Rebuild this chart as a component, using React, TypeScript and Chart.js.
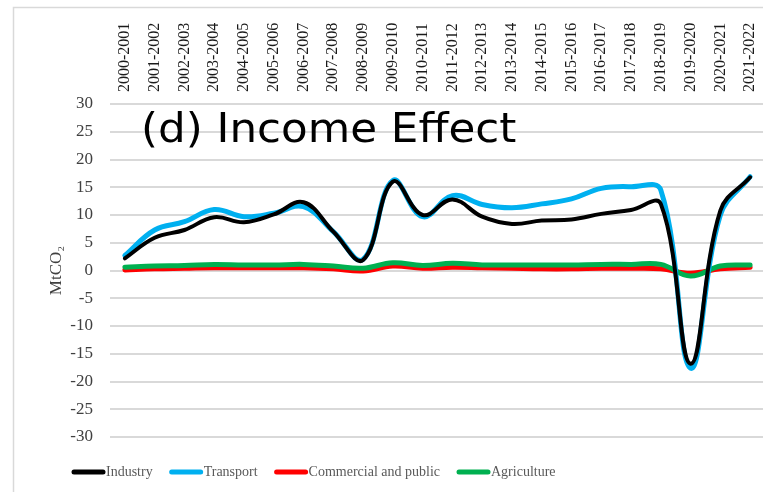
import React, { useEffect, useRef } from "react";
import { Chart, registerables } from "chart.js";

Chart.register(...registerables);

const categories = [
  "2000-2001", "2001-2002", "2002-2003", "2003-2004", "2004-2005", "2005-2006",
  "2006-2007", "2007-2008", "2008-2009", "2009-2010", "2010-2011", "2011-2012",
  "2012-2013", "2013-2014", "2014-2015", "2015-2016", "2016-2017", "2017-2018",
  "2018-2019", "2019-2020", "2020-2021", "2021-2022",
];

const industry = [2.2, 5.9, 7.3, 9.6, 8.7, 10.1, 12.3, 7.0, 1.9, 16.0, 10.0, 12.8, 9.7, 8.4, 9.0, 9.2, 10.2, 10.9, 12.0, -16.8, 10.8, 16.8];
const transport = [2.7, 7.3, 8.8, 11.0, 9.7, 10.3, 11.5, 7.0, 2.0, 16.2, 9.7, 13.5, 11.9, 11.3, 12.0, 12.9, 14.8, 15.1, 14.5, -17.6, 10.0, 16.9];
const commercial = [0.1, 0.3, 0.4, 0.5, 0.5, 0.5, 0.5, 0.3, -0.1, 0.8, 0.4, 0.6, 0.5, 0.4, 0.3, 0.3, 0.4, 0.4, 0.3, -0.5, 0.3, 0.6];
const agriculture = [0.6, 0.8, 0.9, 1.1, 1.0, 1.0, 1.1, 0.8, 0.4, 1.4, 0.9, 1.3, 1.0, 1.0, 1.0, 1.0, 1.1, 1.1, 1.1, -1.0, 0.8, 1.0];

const seriesNames = ["Industry", "Transport", "Commercial and public", "Agriculture"];
const seriesColors = ["#000000", "#00b0f0", "#ff0000", "#00b050"];

const yMin = -30;
const yMax = 30;
const yStep = 5;
const yTitle = "MtCO\u2082";
const panelTitle = "(d) Income Effect";

const SERIF = "'Liberation Serif', 'Times New Roman', serif";

const framePlugin = {
  id: "frame",
  beforeDraw(chart: any) {
    const ctx = chart.ctx;
    ctx.save();
    ctx.strokeStyle = "#d9d9d9";
    ctx.lineWidth = 1.5;
    ctx.beginPath();
    ctx.moveTo(13.5, chart.height);
    ctx.lineTo(13.5, 7.5);
    ctx.lineTo(chart.width, 7.5);
    ctx.stroke();
    ctx.restore();
  },
};

const titlePlugin = {
  id: "panelTitle",
  afterDraw(chart: any) {
    const ctx = chart.ctx;
    const area = chart.chartArea;
    ctx.save();
    ctx.font = "40px 'DejaVu Sans', sans-serif";
    ctx.fillStyle = "#000000";
    ctx.textBaseline = "alphabetic";
    ctx.textAlign = "left";
    ctx.translate(area.left + 31, area.top + 38);
    ctx.scale(1.09, 1);
    ctx.fillText(panelTitle, 0, 0);
    ctx.restore();
  },
};

const legendPlugin = {
  id: "customLegend",
  afterDraw(chart: any) {
    const ctx = chart.ctx;
    ctx.save();
    ctx.font = `14px ${SERIF}`;
    ctx.textBaseline = "middle";
    ctx.textAlign = "left";
    let x = 72;
    const y = 472;
    chart.data.datasets.forEach((ds: any) => {
      ctx.strokeStyle = ds.borderColor;
      ctx.lineWidth = 5;
      ctx.lineCap = "round";
      ctx.beginPath();
      ctx.moveTo(x + 2, y);
      ctx.lineTo(x + 31, y);
      ctx.stroke();
      x += 34;
      ctx.fillStyle = "#595959";
      ctx.fillText(ds.label, x, y);
      x += ctx.measureText(ds.label).width + 17;
    });
    ctx.restore();
  },
};

export default function App() {
  const ref = useRef<HTMLCanvasElement>(null);

  useEffect(() => {
    document.body.style.margin = "0";
    document.body.style.overflow = "hidden";
    const canvas = ref.current;
    if (!canvas) return;
    const values = [industry, transport, commercial, agriculture];
    const widths = [4, 5, 5, 5];
    const orders = [0, 1, 3, 2];
    const chart = new Chart(canvas, {
      type: "line",
      data: {
        labels: categories,
        datasets: values.map((v, i) => ({
          label: seriesNames[i],
          data: v,
          borderColor: seriesColors[i],
          backgroundColor: seriesColors[i],
          borderWidth: widths[i],
          order: orders[i],
          pointRadius: 0,
          tension: 0.4,
          borderCapStyle: "round",
          borderJoinStyle: "round",
          fill: false,
        })),
      },
      options: {
        responsive: false,
        animation: false,
        layout: { padding: { top: 0, left: 0, right: 15, bottom: 55 } },
        plugins: {
          legend: { display: false },
          tooltip: { enabled: false },
          title: { display: false },
        },
        scales: {
          x: {
            position: "top",
            offset: true,
            grid: { display: false, drawTicks: false },
            border: { display: false },
            ticks: {
              autoSkip: false,
              maxRotation: 90,
              minRotation: 90,
              mirror: true,
              padding: -12,
              color: "#1a1a1a",
              font: { family: SERIF, size: 16 },
            },
            afterFit: (s: any) => {
              s.height = 104;
            },
          },
          y: {
            min: yMin,
            max: yMax,
            ticks: {
              stepSize: yStep,
              padding: 17,
              color: "#404040",
              font: { family: SERIF, size: 17 },
            },
            grid: { color: "#d9d9d9", lineWidth: 2, drawTicks: false },
            border: { display: false },
            title: {
              display: true,
              text: yTitle,
              color: "#404040",
              font: { family: SERIF, size: 17 },
              padding: { top: 46, bottom: 0 },
            },
            afterFit: (s: any) => {
              s.width = 110;
            },
          },
        },
      },
      plugins: [framePlugin, titlePlugin, legendPlugin],
    } as any);
    return () => chart.destroy();
  }, []);

  return (
    <div style={{ width: 763, height: 492, overflow: "hidden", position: "relative" }}>
      <canvas ref={ref} width={780} height={492} style={{ display: "block" }} />
    </div>
  );
}
